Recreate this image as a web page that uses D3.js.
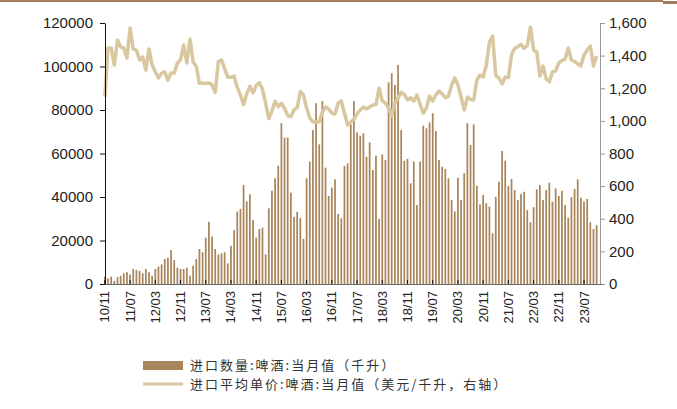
<!DOCTYPE html>
<meta charset="utf-8">
<style>
    body { margin: 0; background: #fff; }
    svg text { font-family: "Liberation Sans", Arial, sans-serif; }
    .legend text { font-family: "Noto Sans CJK SC", sans-serif; font-size: 13px; letter-spacing: 2px; fill: #333; }
</style>
<script src="https://d3js.org/d3.v7.min.js"></script>

<svg id="chart" width="677" height="409"></svg>

<script>
    // first month of the series: 2010/11, one value per month
    var startYear = 2010, startMonth = 11;

    // 进口数量:啤酒:当月值 (千升), left axis
    var importVolume = [
        3400, 2600, 3400, 1400, 3200, 3800, 4900, 5400, 4400, 6900,
        6400, 6000, 4900, 6900, 5400, 3800, 6900, 8000, 9000, 11500,
        12100, 15600, 11000, 7500, 6900, 6900, 7500, 3800, 8400, 11500,
        16100, 14600, 21300, 28600, 21800, 16100, 13600, 14100, 14600, 9500,
        17600, 24800, 33300, 34500, 45500, 37900, 41200, 29400, 21300, 25300,
        25900, 13600, 34800, 42900, 48600, 54400, 73900, 67300, 67300, 42000,
        30900, 33200, 30200, 20700, 48600, 56300, 70800, 83100, 64200, 84100,
        53500, 40500, 44300, 48100, 32200, 30200, 54300, 55500, 73400, 84100,
        69700, 68200, 69300, 58500, 65100, 52400, 59000, 29900, 59600, 57000,
        92700, 96900, 91500, 100700, 70800, 56600, 57500, 46300, 56300, 36300,
        56300, 72800, 71600, 74300, 78500, 70300, 57000, 53900, 52900, 48600,
        38600, 33300, 48900, 38600, 50900, 73900, 63900, 73400, 45200, 36600,
        40900, 37100, 35600, 23300, 40100, 47000, 61200, 56700, 45100, 48300,
        43200, 38600, 41400, 42400, 34000, 28400, 35300, 43500, 45500, 38600,
        43200, 46600, 37900, 44000, 40500, 42900, 36300, 30500, 39900, 43700,
        48100, 39700, 37900, 39100, 28400, 25300, 27100
    ];

    // 进口平均单价:啤酒:当月值 (美元/千升), right axis
    var importPrice = [
        1148, 1447, 1447, 1342, 1496, 1453, 1447, 1385, 1569, 1441,
        1434, 1373, 1392, 1312, 1441, 1342, 1300, 1263, 1293, 1300,
        1250, 1293, 1293, 1355, 1373, 1465, 1355, 1502, 1361, 1335,
        1230, 1230, 1230, 1232, 1222, 1175, 1363, 1373, 1320, 1267,
        1267, 1275, 1205, 1159, 1100, 1165, 1212, 1172, 1216, 1234,
        1195, 1108, 1014, 1060, 1120, 1087, 1108, 1077, 1032, 1026,
        1067, 1081, 1180, 1159, 1079, 1018, 993, 993, 995, 1054,
        1085, 1073, 1048, 1042, 1110, 1122, 1048, 975, 993, 1011,
        1042, 1067, 1085, 1073, 1085, 1097, 1100, 1201, 1122, 1110,
        1079, 1030, 1110, 1140, 1175, 1163, 1128, 1142, 1122, 1159,
        1103, 1048, 1079, 1152, 1122, 1159, 1183, 1165, 1143, 1152,
        1220, 1263, 1220, 1146, 1067, 1146, 1131, 1128, 1250, 1281,
        1269, 1342, 1483, 1520, 1278, 1263, 1226, 1269, 1265, 1404,
        1445, 1455, 1469, 1445, 1462, 1575, 1434, 1422, 1275, 1336,
        1257, 1240, 1300, 1306, 1355, 1370, 1379, 1447, 1373, 1364,
        1349, 1336, 1404, 1434, 1459, 1336, 1398
    ];

    var xTickLabels = ["10/11", "11/07", "12/03", "12/11", "13/07", "14/03", "14/11",
        "15/07", "16/03", "16/11", "17/07", "18/03", "18/11", "19/07", "20/03",
        "20/11", "21/07", "22/03", "22/11", "23/07"];
    var leftTicks = [0, 20000, 40000, 60000, 80000, 100000, 120000];
    var rightTicks = [0, 200, 400, 600, 800, 1000, 1200, 1400, 1600];

    var legendNames = ["进口数量:啤酒:当月值（千升）", "进口平均单价:啤酒:当月值（美元/千升，右轴）"];

    // month labels "yy/mm"
    var months = importVolume.map(function(d, i) {
        var m = startMonth - 1 + i;
        var y = startYear + Math.floor(m / 12);
        var mm = (m % 12) + 1;
        return String(y).slice(2) + "/" + (mm < 10 ? "0" + mm : mm);
    });

    var barColor = "#a9855b",
        lineColor = "#d8c79f";

    var svg = d3.select("#chart");

    // thin brown rule at the top of the page
    svg.append("rect").attr("x", 0).attr("y", 0).attr("width", 663).attr("height", 2).attr("fill", "#a57c5c");
    svg.append("rect").attr("x", 663).attr("y", 1).attr("width", 14).attr("height", 3).attr("fill", "#a57c5c");

    var x = d3.scaleBand()
        .domain(months)
        .range([104, 597.5])
        .paddingInner(0.45);

    var yL = d3.scaleLinear().domain([0, 120000]).range([284, 23]);
    var yR = d3.scaleLinear().domain([0, 1600]).range([284, 23]);

    // bars
    svg.append("g")
        .selectAll("rect")
        .data(importVolume)
        .enter().append("rect")
        .attr("x", function(d, i) { return x(months[i]); })
        .attr("y", function(d) { return yL(d); })
        .attr("width", x.bandwidth())
        .attr("height", function(d) { return yL(0) - yL(d); })
        .attr("fill", barColor);

    // price line
    var line = d3.line()
        .x(function(d, i) { return x(months[i]) + x.bandwidth() / 2; })
        .y(function(d) { return yR(d); });

    svg.append("path")
        .datum(importPrice)
        .attr("d", line)
        .attr("fill", "none")
        .attr("stroke", lineColor)
        .attr("stroke-width", 3.5)
        .attr("stroke-linejoin", "round");

    // left axis
    var gL = svg.append("g")
        .attr("transform", "translate(105,0)")
        .call(d3.axisLeft(yL).tickValues(leftTicks).tickSize(5).tickSizeOuter(0).tickPadding(7).tickFormat(d3.format("d")));
    gL.select(".domain").attr("stroke", "#111");
    gL.selectAll(".tick line").attr("stroke", "#111");
    gL.selectAll("text").attr("font-size", 15).attr("fill", "#222");

    // right axis
    var gR = svg.append("g")
        .attr("transform", "translate(600,0)")
        .call(d3.axisRight(yR).tickValues(rightTicks).tickSize(5).tickSizeOuter(0).tickPadding(4).tickFormat(d3.format(",")));
    gR.select(".domain").attr("stroke", "#999");
    gR.selectAll(".tick line").attr("stroke", "#999");
    gR.selectAll("text").attr("font-size", 15).attr("fill", "#222");

    // bottom axis
    svg.append("line")
        .attr("x1", 105).attr("x2", 603)
        .attr("y1", 284.5).attr("y2", 284.5)
        .attr("stroke", "#666");

    var gX = svg.append("g");
    gX.selectAll("line")
        .data(xTickLabels)
        .enter().append("line")
        .attr("x1", function(d) { return x(d) + x.bandwidth() / 2; })
        .attr("x2", function(d) { return x(d) + x.bandwidth() / 2; })
        .attr("y1", 284).attr("y2", 280)
        .attr("stroke", "#111");
    gX.selectAll("text")
        .data(xTickLabels)
        .enter().append("text")
        .attr("transform", function(d) {
            return "translate(" + (x(d) + x.bandwidth() / 2 + 4.5) + ",291) rotate(-90)";
        })
        .attr("text-anchor", "end")
        .attr("font-size", 13)
        .attr("fill", "#222")
        .text(function(d) { return d; });

    // legend
    var legend = svg.append("g").attr("class", "legend");
    legend.append("rect")
        .attr("x", 143).attr("y", 361).attr("width", 40).attr("height", 9)
        .attr("fill", barColor);
    legend.append("line")
        .attr("x1", 143).attr("x2", 183).attr("y1", 384).attr("y2", 384)
        .attr("stroke", lineColor).attr("stroke-width", 3);
    legend.selectAll("text")
        .data(legendNames)
        .enter().append("text")
        .attr("x", 190)
        .attr("y", function(d, i) { return 366 + i * 19; })
        .attr("dominant-baseline", "middle")
        .text(function(d) { return d; });
</script>
